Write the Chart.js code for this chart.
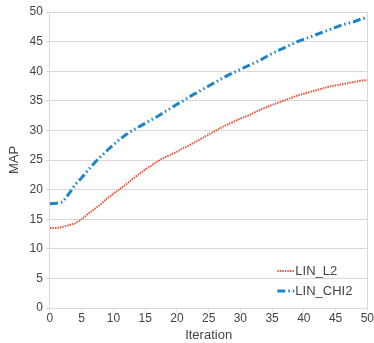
<!DOCTYPE html>
<html>
<head>
<meta charset="utf-8">
<script src="https://cdn.jsdelivr.net/npm/chart.js@4"></script>
<style>
  html, body { margin: 0; padding: 0; background: #fff; }
  #wrap { width: 374px; height: 343px; }
</style>
</head>
<body>
<div id="wrap"><canvas id="chart" width="374" height="343"></canvas></div>
<script>
// iteracje 0..50
const iterations = [0,1,2,3,4,5,6,7,8,9,10,11,12,13,14,15,16,17,18,19,20,21,22,23,24,25,
  26,27,28,29,30,31,32,33,34,35,36,37,38,39,40,41,42,43,44,45,46,47,48,49,50];

const linL2 = [13.5,13.5,13.7,14.0,14.3,15.0,15.9,16.7,17.5,18.5,19.3,20.1,20.9,21.8,22.6,23.4,
  24.1,24.8,25.4,25.9,26.4,27.0,27.5,28.1,28.7,29.3,29.9,30.5,31.0,31.5,32.0,32.4,32.9,33.4,
  33.9,34.3,34.7,35.1,35.5,35.9,36.2,36.5,36.8,37.1,37.4,37.6,37.8,38.0,38.2,38.4,38.5];

const linChi2 = [17.6,17.7,17.9,19.3,20.9,22.0,23.3,24.5,25.6,26.6,27.6,28.5,29.3,30.0,30.6,31.2,
  31.8,32.4,33.1,33.7,34.4,35.0,35.7,36.3,36.9,37.5,38.1,38.7,39.3,39.8,40.3,40.8,41.3,41.8,
  42.4,43.0,43.5,44.0,44.5,45.0,45.4,45.8,46.2,46.6,47.0,47.4,47.8,48.1,48.4,48.8,49.1];

const seriesNames = ['LIN_L2', 'LIN_CHI2'];

const FONT = '"Liberation Sans", Arial, sans-serif';
const gridGray = '#d9d9d9';

// legenda wewnatrz obszaru wykresu (prawy dol)
const innerLegend = {
  id: 'innerLegend',
  afterDatasetsDraw(chart) {
    const ctx = chart.ctx;
    const area = chart.chartArea;
    const x0 = area.right - 90;
    const y0 = area.bottom - 37;
    ctx.save();
    chart.data.datasets.forEach((ds, i) => {
      const y = y0 + i * 20;
      ctx.beginPath();
      ctx.strokeStyle = ds.borderColor;
      ctx.lineWidth = ds.borderWidth;
      ctx.setLineDash(ds.borderDash || []);
      ctx.moveTo(x0, y);
      ctx.lineTo(x0 + 17, y);
      ctx.stroke();
      ctx.setLineDash([]);
      ctx.fillStyle = '#444';
      ctx.font = '13px ' + FONT;
      ctx.textBaseline = 'middle';
      ctx.fillText(ds.label, x0 + 18, y);
    });
    ctx.restore();
  }
};

new Chart(document.getElementById('chart'), {
  type: 'line',
  data: {
    labels: iterations,
    datasets: [
      {
        label: seriesNames[0],
        data: iterations.map((x, i) => ({ x: x, y: linL2[i] })),
        borderColor: '#e2573b',
        borderWidth: 2,
        borderDash: [1.5, 1],
        pointRadius: 0,
        fill: false
      },
      {
        label: seriesNames[1],
        data: iterations.map((x, i) => ({ x: x, y: linChi2[i] })),
        borderColor: '#1f84c8',
        borderWidth: 3,
        borderDash: [8, 3, 1.5, 3, 1.5, 3],
        pointRadius: 0,
        fill: false
      }
    ]
  },
  options: {
    responsive: false,
    animation: false,
    layout: { padding: { top: 12, right: 5, left: 7, bottom: 0 } },
    plugins: {
      legend: { display: false },
      tooltip: { enabled: false }
    },
    scales: {
      x: {
        type: 'linear',
        min: 0,
        max: 50,
        ticks: { stepSize: 5, color: '#444', font: { family: FONT, size: 12 }, padding: 0 },
        grid: {
          color: c => (c.tick && c.tick.value === 50) ? gridGray : 'transparent',
          tickColor: gridGray,
          tickLength: 3
        },
        border: { color: gridGray },
        title: { display: true, text: 'Iteration', color: '#444', font: { family: FONT, size: 13 }, padding: { top: 2, bottom: 0 } }
      },
      y: {
        min: 0,
        max: 50,
        ticks: { stepSize: 5, color: '#444', font: { family: FONT, size: 12 }, padding: 3 },
        grid: { color: gridGray, tickColor: gridGray, tickLength: 4 },
        border: { color: gridGray },
        title: { display: true, text: 'MAP', color: '#444', font: { family: FONT, size: 13 }, padding: { top: 0, bottom: 4 } }
      }
    }
  },
  plugins: [innerLegend]
});
</script>
</body>
</html>
